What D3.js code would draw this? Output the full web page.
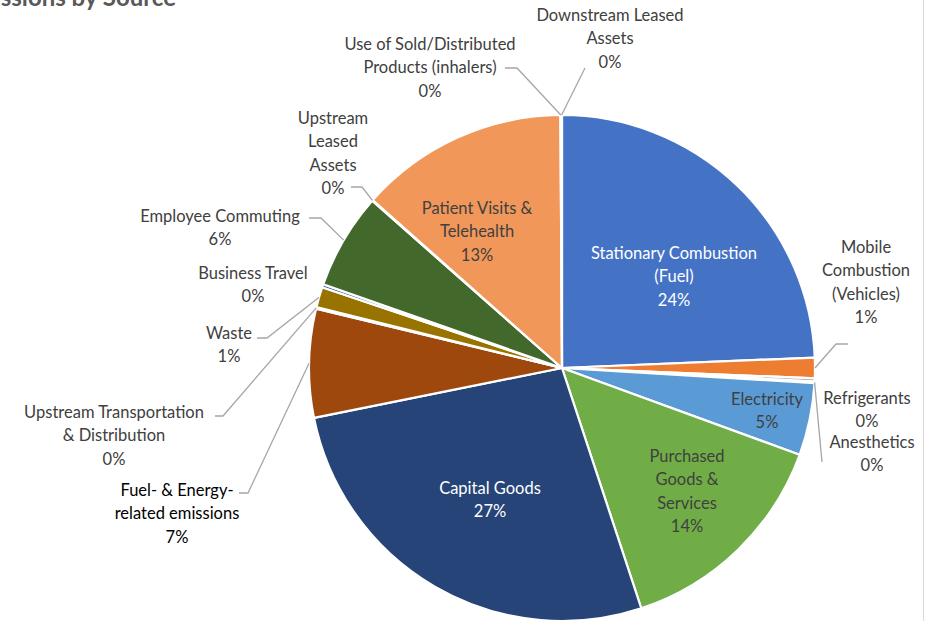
<!DOCTYPE html>
<html>
<head>
<meta charset="utf-8">
<script src="https://cdn.jsdelivr.net/npm/d3@7"></script>
<style>
  body { margin: 0; background: #fff; }
  svg { display: block; }
</style>
</head>
<body>
<svg width="934" height="621"></svg>
<script>
// emission sources, clockwise from 12 o'clock
const sources = [
    'Stationary Combustion (Fuel)', 'Mobile Combustion (Vehicles)', 'Refrigerants', 'Anesthetics',
    'Electricity', 'Purchased Goods & Services', 'Capital Goods', 'Fuel- & Energy-related emissions',
    'Upstream Transportation & Distribution', 'Waste', 'Business Travel', 'Employee Commuting',
    'Upstream Leased Assets', 'Patient Visits & Telehealth', 'Use of Sold/Distributed Products (inhalers)',
    'Downstream Leased Assets'
];
// share of emissions, percent
const shares = [24.25, 1.3, 0.2, 0.1, 4.6, 14.3, 26.8, 6.9, 0.1, 1.3, 0.2, 6.1, 0.05, 13.3, 0.05, 0.05];
// label text lines (name part), as broken in the chart
const labelLines = [
    ['Stationary Combustion', '(Fuel)'], ['Mobile', 'Combustion', '(Vehicles)'], ['Refrigerants'], ['Anesthetics'],
    ['Electricity'], ['Purchased', 'Goods &', 'Services'], ['Capital Goods'], ['Fuel- & Energy-', 'related emissions'],
    ['Upstream Transportation', '& Distribution'], ['Waste'], ['Business Travel'], ['Employee Commuting'],
    ['Upstream', 'Leased', 'Assets'], ['Patient Visits &', 'Telehealth'], ['Use of Sold/Distributed', 'Products (inhalers)'],
    ['Downstream Leased', 'Assets']
];

const colors = ['#4472C4', '#ED7D31', '#A5A5A5', '#FFC000', '#5B9BD5', '#70AD47', '#264478', '#9E480E',
                '#636363', '#997300', '#255E91', '#43682B', '#698ED0', '#F1975A', '#B7B7B7', '#FFCD33'];

// label placement: centre x, first line y, text colour
const labelPos = [
    [674, 253, '#fff'], [866, 247, '#404040'], [867, 398, '#404040'], [872, 442, '#404040'],
    [767, 399, '#404040'], [687, 456, '#404040'], [490, 488, '#fff'], [177, 490, '#000'],
    [114, 412, '#404040'], [229, 333, '#404040'], [253, 273, '#404040'], [220, 216, '#404040'],
    [333, 118, '#404040'], [477, 208, '#404040'], [430, 44, '#404040'], [610, 15, '#404040']
];
// leader lines: elbow point and end point (null = no leader)
const leaders = [
    null, [[836, 344], [848, 344]], null, [[822, 462], [822, 462]],
    null, null, null, [[248, 493], [239, 493]],
    [[223, 416], [215, 416]], [[267, 338], [257, 338]], null, [[321, 218], [309, 218]],
    [[362, 187], [351, 187]], null, [[517, 68], [505, 68]], [[585, 68], [585, 68]]
];

const svg = d3.select('svg');
const cx = 562, cy = 368, radius = 253;
const lineH = 23.5;

const data = sources.map((s, i) => ({name: s, value: shares[i], i: i}));
const total = d3.sum(shares);
const pct = d3.format('.0%');

const pie = d3.pie().sort(null).value(d => d.value);
const arc = d3.arc().innerRadius(0).outerRadius(radius);
const arcs = pie(data);

const g = svg.append('g').attr('transform', `translate(${cx},${cy})`);

g.selectAll('path.slice')
    .data(arcs)
    .enter().append('path')
    .attr('class', 'slice')
    .attr('d', arc)
    .attr('fill', d => colors[d.data.i])
    .attr('stroke', '#fff')
    .attr('stroke-width', 2.2);

// leader lines from the slice edge
arcs.forEach(d => {
    const l = leaders[d.data.i];
    if (!l) return;
    const a = (d.startAngle + d.endAngle) / 2;
    const p0 = [cx + radius * Math.sin(a), cy - radius * Math.cos(a)];
    svg.append('path')
        .attr('d', d3.line()([p0, l[0], l[1]]))
        .attr('fill', 'none')
        .attr('stroke', '#a6a6a6')
        .attr('stroke-width', 1.3);
});

// labels
const labels = svg.append('g')
    .attr('font-family', 'Lato, Liberation Sans, sans-serif')
    .attr('font-size', 16.5)
    .attr('text-anchor', 'middle');

data.forEach(d => {
    const pos = labelPos[d.i];
    const lines = labelLines[d.i].concat([pct(d.value / total)]);
    const t = labels.append('text')
        .attr('fill', pos[2])
        .attr('x', pos[0])
        .attr('y', pos[1]);
    lines.forEach((s, k) => {
        t.append('tspan')
            .attr('x', pos[0])
            .attr('y', pos[1] + k * lineH)
            .attr('dy', '0.35em')
            .text(s);
    });
});

// title, cut off at the top edge of the crop
svg.append('text')
    .attr('x', 176)
    .attr('y', 6)
    .attr('text-anchor', 'end')
    .attr('font-family', 'Lato, Liberation Sans, sans-serif')
    .attr('font-weight', 'bold')
    .attr('font-size', 24)
    .attr('fill', '#595959')
    .text('Emissions by Source');

// chart area border on the right
svg.append('line')
    .attr('x1', 923.5).attr('x2', 923.5)
    .attr('y1', 0).attr('y2', 621)
    .attr('stroke', '#d9d9d9')
    .attr('stroke-width', 1);
</script>
</body>
</html>
